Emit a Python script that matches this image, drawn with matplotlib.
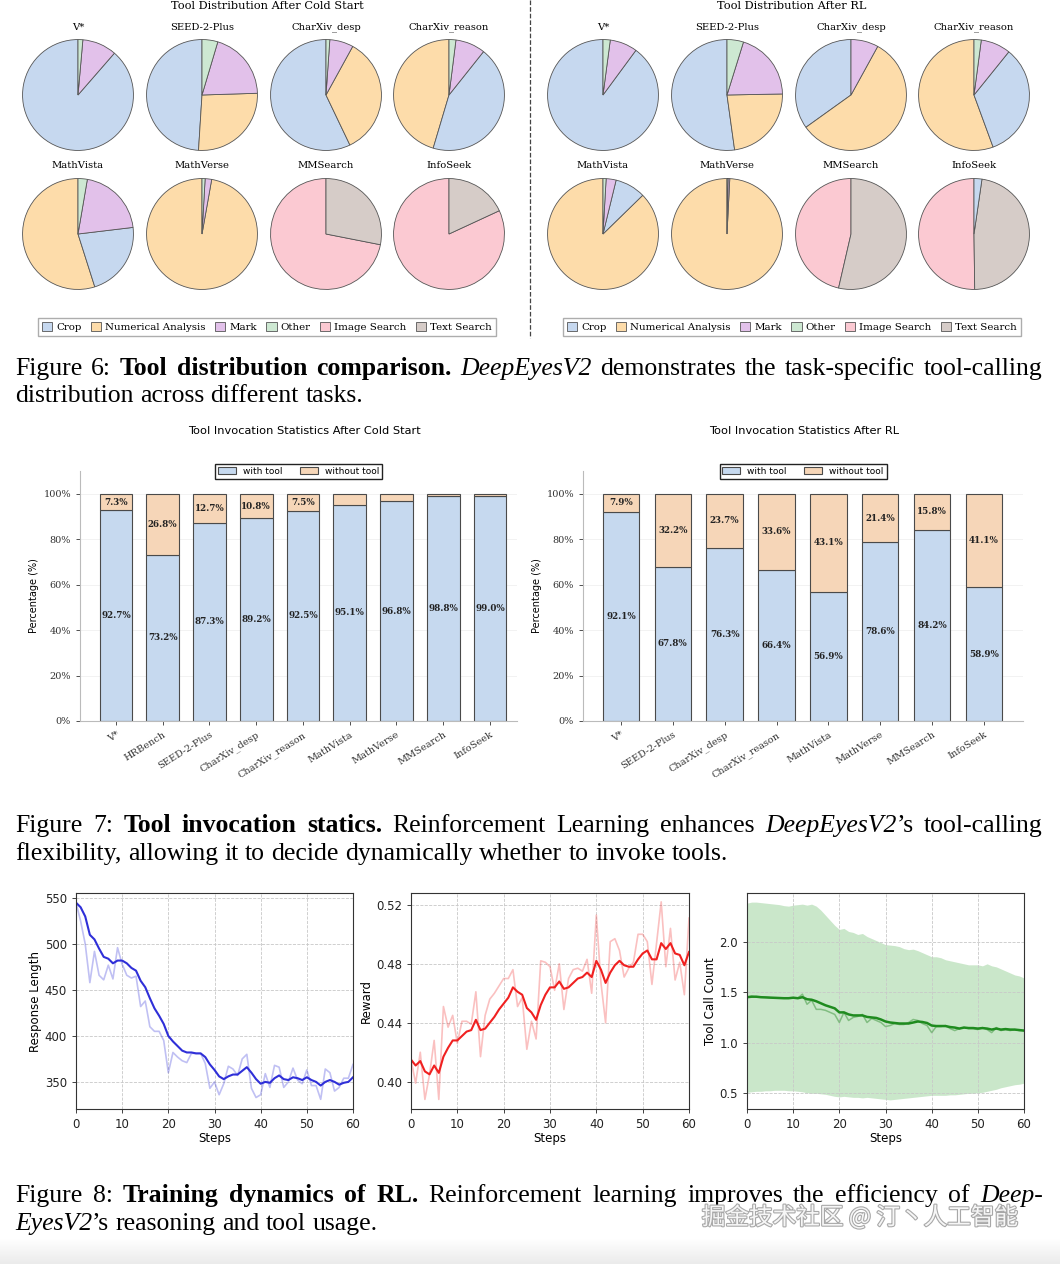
import numpy as np
import matplotlib
matplotlib.use('Agg')
import matplotlib.pyplot as plt
from matplotlib.patches import Patch
from matplotlib.lines import Line2D
from matplotlib.colors import LinearSegmentedColormap
import matplotlib.patheffects as pe

# ---------------- data ----------------
tools = ['Crop', 'Numerical Analysis', 'Mark', 'Other', 'Image Search', 'Text Search']
tool_colors = ['#c6d8ef', '#fddcaa', '#e2c1ea', '#cde8d2', '#fbc9d2', '#d6ccc8']
pie_benches = ['V*', 'SEED-2-Plus', 'CharXiv_desp', 'CharXiv_reason',
               'MathVista', 'MathVerse', 'MMSearch', 'InfoSeek']

# share of each tool (%) per benchmark, columns follow `tools`
cold_dist = [[88.6, 0, 10.0, 1.4, 0, 0],
             [49.0, 26.5, 19.9, 4.6, 0, 0],
             [57.1, 34.9, 6.9, 1.1, 0, 0],
             [43.9, 45.4, 8.7, 2.0, 0, 0],
             [22.0, 54.9, 20.4, 2.7, 0, 0],
             [0, 97.2, 1.9, 0.9, 0, 0],
             [0, 0, 0, 0, 71.9, 28.1],
             [0, 0, 0, 0, 81.9, 18.1]]
rl_dist = [[89.9, 0, 8.0, 2.1, 0, 0],
           [52.2, 23.1, 19.9, 4.8, 0, 0],
           [34.9, 57.1, 8.0, 0, 0, 0],
           [33.6, 55.6, 8.7, 2.1, 0, 0],
           [8.9, 87.3, 2.9, 0.9, 0, 0],
           [0, 99.2, 0.5, 0.3, 0, 0],
           [0, 0, 0, 0, 46.4, 53.6],
           [2.3, 0, 0, 0, 50.2, 47.5]]

cold_benches = ['V*', 'HRBench', 'SEED-2-Plus', 'CharXiv_desp', 'CharXiv_reason',
                'MathVista', 'MathVerse', 'MMSearch', 'InfoSeek']
cold_with = [92.7, 73.2, 87.3, 89.2, 92.5, 95.1, 96.8, 98.8, 99.0]
rl_benches = ['V*', 'SEED-2-Plus', 'CharXiv_desp', 'CharXiv_reason',
              'MathVista', 'MathVerse', 'MMSearch', 'InfoSeek']
rl_with = [92.1, 67.8, 76.3, 66.4, 56.9, 78.6, 84.2, 58.9]

steps = list(range(61))
resp_raw = [545, 525, 500, 458, 492, 466, 461, 477, 462, 496, 478, 466, 463, 465, 432, 438,
            410, 405, 405, 395, 360, 382, 377, 373, 371, 381, 381, 381, 370, 343, 350, 336,
            348, 367, 364, 357, 375, 380, 343, 333, 336, 359, 344, 368, 366, 344, 350, 365,
            352, 348, 363, 346, 346, 331, 364, 360, 340, 344, 354, 354, 369]
resp_smooth = [545, 540, 530, 510, 505, 495, 486, 484, 479, 482, 482, 479, 474, 471, 460, 453,
               441, 430, 422, 413, 400, 394, 389, 384, 382, 382, 381, 381, 377, 369, 363, 356,
               353, 356, 358, 358, 362, 366, 360, 353, 348, 350, 349, 354, 357, 353, 352, 355,
               354, 352, 355, 352, 350, 346, 350, 352, 350, 347, 349, 350, 355]
reward_raw = [0.415, 0.399, 0.420, 0.388, 0.405, 0.428, 0.388, 0.451, 0.437, 0.445, 0.426,
              0.441, 0.441, 0.439, 0.461, 0.417, 0.445, 0.456, 0.460, 0.465, 0.470, 0.470,
              0.476, 0.451, 0.457, 0.422, 0.441, 0.429, 0.482, 0.481, 0.478, 0.462, 0.480,
              0.449, 0.470, 0.476, 0.477, 0.475, 0.483, 0.460, 0.513, 0.467, 0.440, 0.495,
              0.497, 0.489, 0.471, 0.477, 0.481, 0.500, 0.500, 0.495, 0.466, 0.494, 0.522,
              0.478, 0.504, 0.469, 0.481, 0.459, 0.511]
reward_smooth = [0.415, 0.411, 0.414, 0.407, 0.405, 0.411, 0.406, 0.417, 0.423, 0.428, 0.428,
                 0.431, 0.434, 0.435, 0.442, 0.435, 0.436, 0.440, 0.444, 0.449, 0.453, 0.457,
                 0.464, 0.461, 0.459, 0.450, 0.447, 0.442, 0.452, 0.459, 0.464, 0.464, 0.468,
                 0.463, 0.464, 0.467, 0.470, 0.471, 0.474, 0.471, 0.482, 0.476, 0.467, 0.474,
                 0.479, 0.482, 0.479, 0.478, 0.478, 0.483, 0.487, 0.489, 0.483, 0.483, 0.494,
                 0.490, 0.494, 0.487, 0.486, 0.479, 0.488]
tool_raw = [1.45, 1.46, 1.45, 1.45, 1.45, 1.445, 1.44, 1.44, 1.44, 1.44, 1.44, 1.44, 1.48,
            1.38, 1.42, 1.33, 1.33, 1.32, 1.30, 1.28, 1.20, 1.30, 1.22, 1.25, 1.26, 1.28,
            1.20, 1.24, 1.22, 1.20, 1.16, 1.17, 1.19, 1.18, 1.18, 1.20, 1.23, 1.22, 1.19,
            1.17, 1.10, 1.16, 1.16, 1.17, 1.14, 1.12, 1.14, 1.15, 1.14, 1.14, 1.13, 1.15,
            1.13, 1.10, 1.15, 1.12, 1.13, 1.12, 1.13, 1.12, 1.12]
tool_smooth = [1.45, 1.455, 1.455, 1.45, 1.448, 1.446, 1.444, 1.442, 1.44, 1.44, 1.445, 1.44,
               1.45, 1.43, 1.425, 1.41, 1.39, 1.37, 1.355, 1.34, 1.30, 1.30, 1.28, 1.27,
               1.27, 1.27, 1.255, 1.25, 1.245, 1.23, 1.21, 1.20, 1.195, 1.19, 1.19, 1.19,
               1.20, 1.21, 1.205, 1.195, 1.17, 1.165, 1.165, 1.165, 1.155, 1.15, 1.14, 1.15,
               1.145, 1.145, 1.14, 1.145, 1.14, 1.13, 1.14, 1.13, 1.135, 1.13, 1.13, 1.125, 1.12]
tool_upper = [2.38, 2.39, 2.39, 2.385, 2.38, 2.375, 2.37, 2.365, 2.355, 2.35, 2.36, 2.365,
              2.37, 2.36, 2.37, 2.35, 2.31, 2.26, 2.21, 2.16, 2.12, 2.13, 2.10, 2.09, 2.07,
              2.08, 2.05, 2.03, 2.01, 1.99, 1.97, 1.965, 1.96, 1.95, 1.93, 1.92, 1.925, 1.91,
              1.89, 1.87, 1.85, 1.85, 1.84, 1.82, 1.81, 1.80, 1.79, 1.78, 1.77, 1.77, 1.77,
              1.76, 1.78, 1.76, 1.75, 1.73, 1.71, 1.69, 1.67, 1.66, 1.64]
tool_lower = [0.51, 0.515, 0.52, 0.52, 0.525, 0.525, 0.53, 0.53, 0.53, 0.525, 0.525, 0.52,
              0.515, 0.505, 0.50, 0.50, 0.495, 0.49, 0.48, 0.47, 0.465, 0.47, 0.465, 0.46,
              0.46, 0.455, 0.46, 0.455, 0.45, 0.445, 0.44, 0.435, 0.44, 0.445, 0.45, 0.455,
              0.46, 0.465, 0.47, 0.475, 0.48, 0.48, 0.48, 0.48, 0.485, 0.485, 0.49, 0.495,
              0.50, 0.50, 0.505, 0.51, 0.52, 0.53, 0.54, 0.555, 0.565, 0.575, 0.585, 0.59, 0.60]

# ---------------- layout helpers ----------------
W, H = 1060, 1264


def box(x, y, w, h):
    # pixel box (top-left origin) -> figure fraction
    return [x / W, 1 - (y + h) / H, w / W, h / H]


fig = plt.figure(figsize=(W / 100, H / 100), dpi=100)
SERIF = 'DejaVu Serif'

# ---------------- Figure 6: pies ----------------
R = 56
pie_rows = [95, 234]


def draw_pies(dist, xs, title, title_x):
    for k, name in enumerate(pie_benches):
        row, col = divmod(k, 4)
        cx, cy = xs[col], pie_rows[row]
        ax = fig.add_axes(box(cx - R, cy - R, 2 * R, 2 * R))
        # slice order follows the cold start ranking of each benchmark
        order = [j for j in np.argsort(-np.array(cold_dist[k]), kind='stable') if dist[k][j] > 0]
        ax.pie([dist[k][j] for j in order], colors=[tool_colors[j] for j in order],
               startangle=90, counterclock=True,
               wedgeprops=dict(edgecolor='#555555', linewidth=0.6))
        ax.set_xlim(-1.01, 1.01)
        ax.set_ylim(-1.01, 1.01)
        fig.text(cx / W, 1 - (cy - R - 12) / H, name, ha='center', va='center',
                 family=SERIF, fontsize=7.2)
    fig.text(title_x / W, 1 - 6 / H, title, ha='center', va='center', family=SERIF, fontsize=8.2)
    handles = [Patch(facecolor=c, edgecolor='#555555', linewidth=0.6) for c in tool_colors]
    fig.legend(handles, tools, loc='center', bbox_to_anchor=(title_x / W, 1 - 327 / H),
               ncol=6, prop={'family': SERIF, 'size': 7.4}, frameon=True, fancybox=False,
               edgecolor='#999999', handlelength=1.0, handleheight=0.9, handletextpad=0.4,
               columnspacing=0.9, borderpad=0.35)


draw_pies(cold_dist, [78, 202, 326, 449], 'Tool Distribution After Cold Start', 267)
draw_pies(rl_dist, [603, 727, 851, 974], 'Tool Distribution After RL', 792)
fig.add_artist(Line2D([530 / W, 530 / W], [1, 1 - 338 / H], transform=fig.transFigure,
                      ls='--', color='#444444', lw=0.9))

# ---------------- Figure 7: stacked bars ----------------
C_WITH, C_WITHOUT = '#c6d9ef', '#f6d6b8'


def draw_bars(rect, names, with_tool, xlim, title, title_x):
    ax = fig.add_axes(box(*rect))
    x = np.arange(len(names))
    with_tool = np.array(with_tool)
    without = 100 - with_tool
    ax.bar(x, with_tool, width=0.7, color=C_WITH, edgecolor='#4a4a4a', linewidth=0.8,
           label='with tool')
    ax.bar(x, without, bottom=with_tool, width=0.7, color=C_WITHOUT, edgecolor='#4a4a4a',
           linewidth=0.8, label='without tool')
    for i in x:
        ax.text(i, with_tool[i] / 2, f'{with_tool[i]:.1f}%', ha='center', va='center',
                family=SERIF, fontweight='bold', fontsize=6.3, color='#222222')
        if without[i] > 5:
            ax.text(i, with_tool[i] + without[i] / 2, f'{without[i]:.1f}%', ha='center',
                    va='center', family=SERIF, fontweight='bold', fontsize=6.3, color='#222222')
    ax.set_xlim(*xlim)
    ax.set_ylim(0, 110)
    ax.set_yticks(range(0, 101, 20))
    ax.set_yticklabels([f'{v}%' for v in range(0, 101, 20)], family=SERIF, fontsize=7)
    ax.set_xticks(x)
    ax.set_xticklabels(names, rotation=32, ha='right', rotation_mode='anchor',
                       family=SERIF, fontsize=7)
    for s in ['top', 'right']:
        ax.spines[s].set_visible(False)
    for s in ['left', 'bottom']:
        ax.spines[s].set_color('#bbbbbb')
    ax.tick_params(colors='#333333', length=3, width=0.6)
    ax.grid(axis='y', color='#f0f0f0', lw=0.6)
    ax.set_axisbelow(True)
    ax.set_ylabel('Percentage (%)', fontsize=7, labelpad=3)
    ax.legend(loc='upper center', bbox_to_anchor=(0.5, 1.045), ncol=2, fontsize=6.5,
              frameon=True, fancybox=False, edgecolor='#222222', framealpha=1,
              handlelength=2.0, handleheight=0.8, handletextpad=0.8, columnspacing=1.9,
              borderpad=0.3)
    fig.text(title_x / W, 1 - 431 / H, title, ha='center', va='center', fontsize=8.2)


draw_bars((80, 471, 437, 250), cold_benches, cold_with, (-0.77, 8.58),
          'Tool Invocation Statistics After Cold Start', 304)
draw_bars((583, 471, 440, 250), rl_benches, rl_with, (-0.73, 7.75),
          'Tool Invocation Statistics After RL', 804)

# ---------------- Figure 8: training curves ----------------


def style_line_ax(ax, ylabel, yticks, ylim, fmt):
    ax.set_xlim(0, 60)
    ax.set_ylim(*ylim)
    ax.set_xticks(range(0, 61, 10))
    ax.set_yticks(yticks)
    ax.set_yticklabels([fmt.format(v) for v in yticks])
    ax.tick_params(labelsize=8.5, length=3, width=0.6, colors='#222222')
    ax.grid(True, linestyle='--', color='#c8c8c8', lw=0.6)
    for s in ax.spines.values():
        s.set_color('#333333')
        s.set_linewidth(0.8)
    ax.set_xlabel('Steps', fontsize=8.5, labelpad=1)
    ax.set_ylabel(ylabel, fontsize=8.5, labelpad=2)


ax1 = fig.add_axes(box(76, 893, 277, 216))
ax1.plot(steps, resp_raw, color='#2f2fd8', alpha=0.3, lw=1.2)
ax1.plot(steps, resp_smooth, color='#2f2fd8', lw=1.5)
style_line_ax(ax1, 'Response Length', [350, 400, 450, 500, 550], (320.5, 555.5), '{:.0f}')

ax2 = fig.add_axes(box(411, 893, 278, 216))
ax2.plot(steps, reward_raw, color='#f03030', alpha=0.3, lw=1.2)
ax2.plot(steps, reward_smooth, color='#f02020', lw=1.5)
style_line_ax(ax2, 'Reward', [0.40, 0.44, 0.48, 0.52], (0.3815, 0.528), '{:.2f}')

ax3 = fig.add_axes(box(747, 893, 277, 216))
ax3.fill_between(steps, tool_lower, tool_upper, color='#a8d8a8', alpha=0.6, lw=0)
ax3.plot(steps, tool_raw, color='#2a8a2a', alpha=0.45, lw=1.1)
ax3.plot(steps, tool_smooth, color='#1f8b1f', lw=1.8)
style_line_ax(ax3, 'Tool Call Count', [0.5, 1.0, 1.5, 2.0], (0.345, 2.48), '{:.1f}')

# ---------------- captions ----------------
renderer = fig.canvas.get_renderer()
X0, X1 = 15, 1043
CAP = 'Liberation Serif'


def caption_line(y, segments, justify, size=18.5):
    words = [[]]
    for style, text in segments:
        for k, p in enumerate(text.split(' ')):
            if k:
                words.append([])
            if p:
                words[-1].append((style, p))
    words = [w for w in words if w]
    rows, widths = [], []
    for w in words:
        row, ww = [], 0
        for style, p in w:
            t = fig.text(0, 1 - y / H, p, fontsize=size, family=CAP, va='baseline', ha='left',
                         fontweight='bold' if style == 'b' else 'normal',
                         fontstyle='italic' if style == 'i' else 'normal')
            wd = t.get_window_extent(renderer).width
            row.append((t, wd))
            ww += wd
        rows.append(row)
        widths.append(ww)
    gap = size * 100 / 72 * 0.25
    if justify:
        gap = (X1 - X0 - sum(widths)) / (len(words) - 1)
    x = X0
    for row, ww in zip(rows, widths):
        for t, wd in row:
            t.set_x(x / W)
            x += wd
        x += gap


caption_line(375, [('n', 'Figure 6: '), ('b', 'Tool distribution comparison. '),
                   ('i', 'DeepEyesV2'), ('n', ' demonstrates the task-specific tool-calling')], True)
caption_line(402, [('n', 'distribution across different tasks.')], False)
caption_line(832, [('n', 'Figure 7: '), ('b', 'Tool invocation statics. '),
                   ('n', 'Reinforcement Learning enhances '), ('i', 'DeepEyesV2'),
                   ('n', '\u2019s tool-calling')], True)
caption_line(860, [('n', 'flexibility, allowing it to decide dynamically whether to invoke tools.')],
             False)
caption_line(1202, [('n', 'Figure 8: '), ('b', 'Training dynamics of RL. '),
                    ('n', 'Reinforcement learning improves the efficiency of '), ('i', 'Deep-')],
             True)
caption_line(1230, [('i', 'EyesV2'), ('n', '\u2019s reasoning and tool usage.')], False)

# watermark and bottom shading
fig.text(860 / W, 1 - 1217 / H, '掘金技术社区 @ 汀丶人工智能',
         family=['Noto Sans CJK SC', 'DejaVu Sans'], fontsize=17, ha='center', va='center',
         color='#f6f6f6', path_effects=[pe.withStroke(linewidth=1.6, foreground='#a8a8a8')])
ax_bg = fig.add_axes(box(0, 1238, 1060, 26), zorder=-5)
ax_bg.imshow(np.linspace(0, 1, 26)[:, None],
             cmap=LinearSegmentedColormap.from_list('fade', ['#ffffff', '#ebebeb']),
             aspect='auto')
ax_bg.axis('off')

fig.savefig('out.png', dpi=100)
